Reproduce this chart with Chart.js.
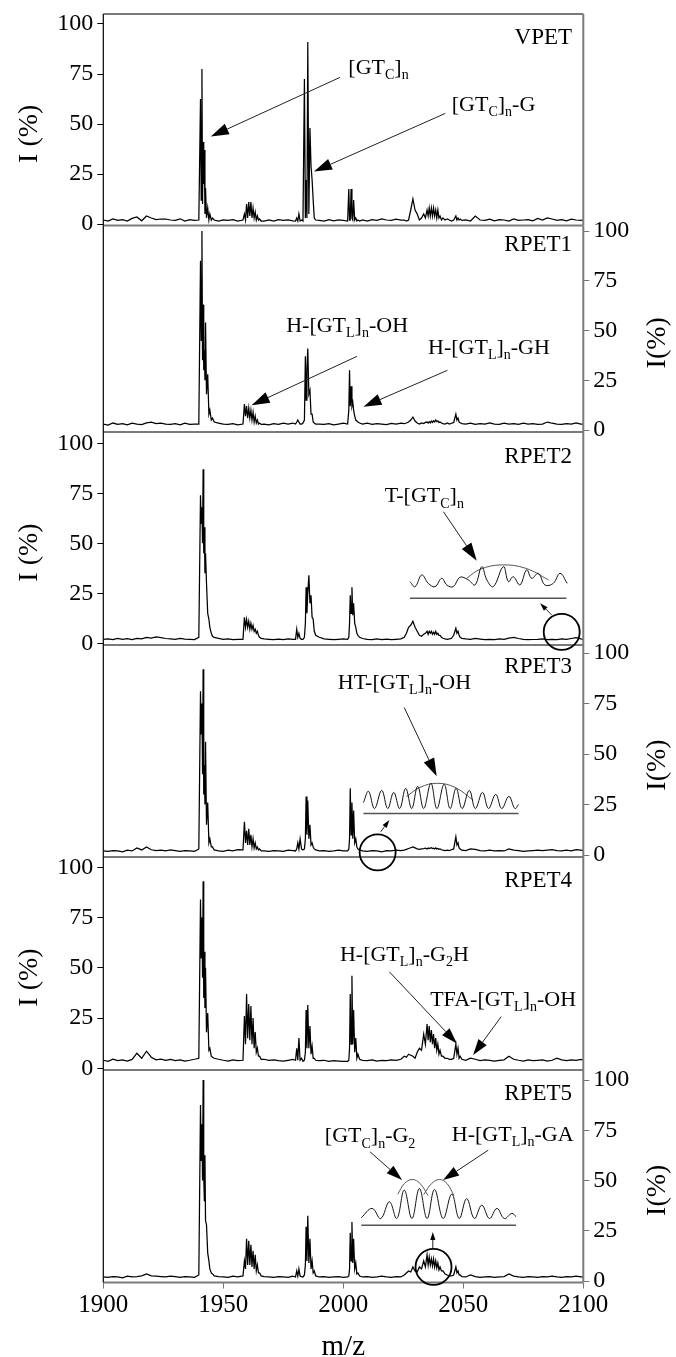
<!DOCTYPE html>
<html>
<head>
<meta charset="utf-8">
<script src="https://cdn.jsdelivr.net/npm/chart.js@4.4.0/dist/chart.umd.min.js"></script>
<style>
  html, body { margin: 0; padding: 0; background: #fff; overflow: hidden; }
  #wrap { position: relative; width: 676px; height: 1357px; overflow: hidden; }
  #wrap canvas { position: absolute; left: 0; }
</style>
</head>
<body>
<div id="wrap"></div>
<script>
// m/z grid shared by the six spectra (coarse on the baseline, fine in the isotope clusters)
var mz = [
  1900,1902,1904,1906,1908,1910,1912,1914,1916,1918,1920,1922,1924,1926,1928,1930,1932,1934,1936,1938,
  1939.8,1940.5,1940.8,1941.1,1941.35,1941.6,1941.85,1942.1,1942.35,1942.6,1943.0,1943.5,1944.0,1944.4,1945.0,1945.5,1946.2,
  1948,1950,1952,1954,1956,
  1958.2,1958.8,1959.25,1959.7,1960.15,1960.6,1961.05,1961.5,1961.95,1962.4,1962.85,1963.3,1963.75,1964.2,1964.65,1965.1,1965.8,
  1967,1969,1971,1973,1975,1977,1979,
  1980.1,1980.6,1981.05,1981.5,1982.0,1982.6,1983.2,1983.8,1984.2,1984.5,1984.85,1985.2,1985.65,1986.1,1986.55,1987.0,1987.45,1987.9,1988.5,
  1990,1992,1994,1996,1998,2000,
  2001.8,2002.3,2002.6,2002.9,2003.25,2003.6,2003.95,2004.3,2004.75,2005.2,2005.65,2006.1,2006.8,
  2008,2010,2012,2014,2016,2018,2020,2022,2024,
  2025.4,2026.3,2027.2,2028.1,2029.0,2029.9,2030.8,2031.7,2032.6,2033.5,2034.2,2034.9,2035.35,2035.8,2036.25,2036.7,2037.15,2037.6,2038.05,2038.5,2038.95,2039.4,2039.85,2040.3,2040.9,2041.5,2042.4,2043.3,2044.2,2045.1,2046.0,2046.9,2047.35,2047.8,2048.25,2048.7,2049.4,
  2051,2053,2055,2057,2059,2061,2063,2065,2067,2069,2071,2073,2075,2077,2079,2081,2083,2085,2087,2089,2091,2093,2095,2097,2099,2100
];

// relative intensities (%) on the mz grid
var vpet = [
  2,1.5,2.5,1.8,2.2,1.5,2.8,3.5,1.6,4,3,2.2,2.5,2.5,2,1.8,2.6,1.5,2.2,1.8,
  2,62.5,12,77.5,10,41,20,37,5,18,3,8,2,5,2,3,2,
  1.5,2,1.8,2.2,1.5,
  2,5,2,10,3,11,4,11,3,8,3,6,2,4,2,2.5,1.5,
  1.5,2,1.5,2.2,1.8,2,1.6,
  1.5,3,1.5,5,1.5,2,1.5,72.5,3,22,3,91,5,48,29,22,12,3,2,
  1.8,1.5,2.2,1.6,2,1.8,
  1.5,17.5,2,2,17.5,3,2,12,2,3,1.5,2,1.5,
  2,1.5,2.2,1.8,2.5,2,1.8,2.4,2,
  2,1.5,2,7,12.5,7,5,2,3,5,3,7,4,8,4,8,4,8,4,7,3,7,3,4,2,3,2,2.5,2,1.5,2,4,2,3,2,2.5,1.8,
  2,1.5,4,2,1.8,2.4,1.6,2.2,2,1.5,2.5,1.8,2,2.2,1.6,2.8,2,3,2.5,1.8,2.2,1.6,2.4,2,1.8,2
];
var rpet1 = [
  3,2.5,3.5,2.8,3.2,2.6,3.4,3,2.7,3.6,4,3.2,3.5,3,2.8,3.2,2.6,3.4,2.8,3,
  3,85,45,100,35,63,30,40,25,54,18,28,8,10,5,6,4,
  3.5,3,2.8,3.2,2.6,
  3,13,7,12,6,11,6,10,5,9,4,7,3.5,5,3,3.5,2.8,
  3,2.6,3.2,2.8,3.4,3,3.5,
  3,4,5,4,3,3,3.5,5,37,15,30,41,18,20,8,8,4,3.5,3,
  3,2.8,3.2,2.6,3,3.4,
  3,10,30,12,22,12,14,10,7,5,4.5,4,3.5,
  3,3.4,2.8,3.2,3,2.7,3.3,3,3.5,
  3.2,3.5,4,5,6.5,4.5,3.5,3,3.6,3.2,3.8,4,3.5,4.2,3.6,4.5,3.8,4.6,4,5,4.2,4.6,3.8,4,3.5,3.2,3,3.5,3,3.4,3.8,8,5,6,4,3.6,3.2,
  3,3.5,2.8,3.2,3,3.6,3,2.8,3.4,3,3.2,2.8,3.4,3,3.2,2.8,3,4,3.4,3,2.8,3.2,3,3.6,3,3
];
var rpet2 = [
  2,2.2,1.8,2.4,2,2.3,1.9,2.5,2.2,3,2.6,3.2,2.8,2.4,2.2,2,2.4,2.1,2,1.9,
  3,74,60,68,50,87,45,58,35,45,30,15,12,8,5,3.5,3,
  2.5,2,2.2,1.8,2,
  2,13,8,12,8,11,7,10,7,9,6,7,5,6,4,3,2.5,
  2.2,2,1.8,2.1,1.9,2.2,2,
  2,7,3,5,2.5,2,2,3,10,28,15,25,34,20,24,13,12,6,4,
  3,2.2,2,1.8,2,2.2,
  2,3,10,24,15,28,14,20,10,8,5,4,3,
  2.4,2,1.8,2.2,1.9,2.1,1.8,2,2.2,
  3,5,8,9,11,8,6,4,3.5,4.5,5,6,4.5,6,5,6,4.5,5.5,4.5,6,4.5,5,4,4,3,2.5,2.2,2,2.2,2.5,4,7.5,5,6,4,3,2.5,
  2.2,2,2.4,2.1,1.8,2,1.9,2.2,2,2.6,3,2.4,2,1.8,1.9,2,2.2,1.8,2,1.9,2.2,2,2.4,2.8,2.2,2
];
var rpet3 = [
  2,1.8,2.2,2,1.6,2.4,2,3.5,2.5,4,2.6,2.2,2.4,2,2.5,2.2,1.8,2.2,2,1.8,
  3,81,60,75,40,92,30,44.5,25,56,15,26,6,8,4,4,2.5,
  2,1.8,2.4,2,2.6,
  2.5,16.5,6,12,5,13,5,10,4,8,3.5,6,3,4,2.5,3,2,
  2,1.8,2.2,2,1.8,2.4,2.2,
  2,3,6,3,8,3,2.5,3,8,29,10,27,8,15,5,6,4,3,2.5,
  2,2.2,1.8,2,2.4,2,
  2,3,8,33,10,26,8,22,6,8,4,3,2.5,
  2,1.8,2.2,2,1.6,2.2,2,2.4,2.2,
  2.4,2.8,3.2,3.6,4,3.5,3,2.8,3,3.2,3.4,3,3.5,3.2,3.4,3.6,3.2,3.4,3,3.5,3,3.2,2.8,3,2.6,2.4,2.2,2.4,2.2,2.6,3,9,5,6,3.5,3,2.4,
  2.2,3,2.8,2.2,2,2.4,2,2.2,2,3,2.4,2.2,1.8,2,2.2,2.4,2.2,2.4,2.6,2.2,2,2.4,2,2.6,2.4,2.2
];
var rpet4 = [
  4,3.5,4.5,3.8,4.2,3.6,4.4,7.5,5,8.5,5.5,4.2,4.6,4,4.4,3.8,4.2,3.6,4,4.5,
  5,84,55,75,45,93,35,58,30,50,18,27.5,9,10,6,5.5,5,
  4.5,4,3.6,4.2,3.8,
  4,26,12,37,15,32,14,31,12,25,10,18,8,10,6,6,4.5,
  4.5,4,4.2,3.8,3.6,4,4.4,
  4,10,4,15,4,5,3.5,4,8,29,10,31.5,10,21,7,11,5,5,4,
  3.8,4,3.5,3.8,3.6,3.4,
  3.5,4,10,37,12,46,12,29,8,15,5,7,4.5,
  4,3.8,4.2,3.6,4,3.8,4.2,4,4.5,
  6,5.5,7,6.5,6,5,8,10,9,17,12,22,14,21,13,19,12,17,10,15,9,12,7,9,6,6,5,5,4.5,4.5,5,12,7,10,5,6,4.5,
  4,5,4.5,3.8,4.2,4,3.6,4,4.2,6,4.5,4,3.6,4.2,3.8,4,4.2,3.6,4,5,4.2,3.8,4.2,4,4.4,4
];
var rpet5 = [
  2,1.8,2.2,2,1.6,2.4,2,2.2,2.6,3.5,2.6,2.4,2.2,2,2.4,2.2,1.8,2.2,2,1.8,
  3,87.5,60,78,50,100,52,40,62.6,30,28,14,10,6,4,3.5,2.5,
  2.2,2,1.8,2.4,2,
  2.5,10,6,21,8,20,8,18,7,15,6,13,5,8,4,4,2.5,
  2.2,2,1.8,2.2,2,1.8,2.4,
  2,5,2.5,6,2.5,2.2,2,3,8,27,10,32.4,9,21,6,10,4,5,2.5,
  2,2.2,1.8,2,2.2,1.8,
  2,2.5,6,24,10,29.4,9,21,6,9,3.5,4,2.5,
  2,2.2,1.8,2,2.4,2,1.8,2.2,2,
  3,4,5,4.5,7,5,4.5,7,6,10,7,13,8,12,8,11,7.5,11,7,10,6.5,9,5.5,7,5,5,3.5,3,2.5,2.5,3,7,4,5,3,3,2.2,
  2,3,2.2,1.8,2,2.2,1.8,2,2.2,3.5,2.4,2,1.8,2.2,2,1.8,2.2,2,2.4,2,1.8,2.2,2,2.4,2,2
];
var spectra = [vpet, rpet1, rpet2, rpet3, rpet4, rpet5];
var panelNames = ['VPET', 'RPET1', 'RPET2', 'RPET3', 'RPET4', 'RPET5'];

var xTicks = [1900, 1950, 2000, 2050, 2100];
var yTicks = [0, 25, 50, 75, 100];

// zoomed insets (drawn in the panel's own m/z, intensity units)
var rpet2InsetMz = [2027.8,2029.9,2032.7,2035.4,2038.2,2041.0,2043.1,2045.8,2048.6,2052.1,2054.9,2057.7,2059.8,2062.5,2066.7,2068.8,2070.8,2073.6,2076.4,2078.5,2081.3,2084.0,2087.5,2090.3,2093.3];
var rpet2InsetI  = [30.8,28.3,34.2,30,28.3,32.5,29.2,28.3,33,31.7,29.2,38.3,31.7,28.3,38.3,30.8,33.3,29.2,36.7,32.5,35,29.2,30,35,30];
var rpet2ArcMz = [2051.4, 2057, 2066, 2076, 2085.5];
var rpet2ArcI  = [32.5, 37, 39.2, 37.5, 31.7];

var rpet3InsetMz = [2008.4,2010.5,2013,2016,2018.5,2021,2023.5,2026,2028.5,2031,2033.5,2036.5,2039,2042,2044.5,2047,2049.5,2052.5,2055,2058,2060.5,2063.5,2066,2069,2071.5,2073];
var rpet3InsetI  = [26,31.5,23,32,23,31,23,33,23,34,23,35.5,23,35,23,33,23,32,23,31,23,30,23,29,23,25];
var rpet3ArcMz = [2026.3, 2032, 2039, 2046.5, 2054.1];
var rpet3ArcI  = [28.9, 33.5, 35.5, 33.5, 27.2];

var rpet5InsetMz = [2007.5,2012.0,2015.6,2019.2,2022.3,2025.4,2028.6,2031.7,2034.9,2038.0,2041.6,2045.2,2048.3,2051.4,2054.6,2057.7,2060.9,2064.0,2067.1,2070.2,2072];
var rpet5InsetI  = [31.5,36.1,31.1,39.4,31.1,45.2,31.1,46.0,31.1,45.5,31.1,43.2,31.1,41.0,31.1,37.7,31.1,36.1,31.1,33.6,32];
var rpet5Arc1Mz = [2022.7, 2025.5, 2028.7, 2032, 2035.3];
var rpet5Arc1I  = [43.2, 48.5, 50.5, 48.5, 42.5];
var rpet5Arc2Mz = [2033.5, 2036.8, 2040.1, 2043.2, 2046.1];
var rpet5Arc2I  = [43, 48.5, 50.5, 48.5, 42.5];

// annotations per panel: [text, m/z at left edge, intensity at middle]
var annoLabels = [
  [['[GT_{C}]_{n}', 2002.1, 78], ['[GT_{C}]_{n}-G', 2045.2, 59.5]],
  [['H-[GT_{L}]_{n}-OH', 1976.2, 52], ['H-[GT_{L}]_{n}-GH', 2035.3, 41]],
  [['T-[GT_{C}]_{n}', 2017.3, 73.3]],
  [['HT-[GT_{L}]_{n}-OH', 1997.7, 85]],
  [['H-[GT_{L}]_{n}-G_{2}H', 1998.6, 56.4], ['TFA-[GT_{L}]_{n}-OH', 2036.2, 34]],
  [['[GT_{C}]_{n}-G_{2}', 1992.3, 71.8], ['H-[GT_{L}]_{n}-GA', 2045.2, 72.6]]
];
// arrows: from (m/z, I) to (m/z, I), head size
var annoArrows = [
  [[1998.6,73.3,1944.8,43.7,18], [2042.5,55.3,1987.8,26.2,18]],
  [[2005.7,37,1961.8,12.5,18], [2043.4,30,2008.4,11.7,18]],
  [[2041.7,65.8,2055.6,41.3,18], [2086.8,14.2,2082,20,8]],
  [[2025.4,73,2038.9,39,18], [2015.6,11.5,2019.2,17.3,8]],
  [[2019.2,48,2047.3,12.4,16], [2065.8,25.7,2054.1,6.6,16]],
  [[2011.1,64.3,2024.5,50.2,16], [2060.4,65.1,2041.6,50.2,16], [2037.3,16.1,2037.3,24.4,8]]
];
var annoCircles = [[], [], [[2091, 5.7]], [[2014.3, 1.3]], [], [[2037.6, 7]]];
var annoRules = [[], [], [[2027.8, 2093, 22.5]], [[2008.4, 2073, 20.6]], [], [[2007.5, 2072, 27.7]]];

// page layout (pixels)
var PLOT_L = 103.3, PLOT_R = 583.3, W = 676, PAD = 24, XAXIS_H = 82;
var panelTop    = [14, 225.5, 432, 645, 857, 1070];
var panelBottom = [225.5, 432, 645, 857, 1070, 1282.5];
var zeroPx      = [224, 430, 643.3, 855, 1068.3, 1281];
var hundredPx   = [24, 231, 443.3, 653, 867.3, 1080];
var tickSide    = ['left', 'right', 'left', 'right', 'left', 'right'];
var SERIF = "'Liberation Serif', 'Times New Roman', serif";

function pts(xs, ys) {
  return xs.map(function (x, j) { return { x: x, y: ys[j] }; });
}

function drawRich(ctx, str, x, y, size) {
  var parts = str.split(/(_\{[^}]*\})/);
  ctx.textAlign = 'left';
  ctx.textBaseline = 'middle';
  parts.forEach(function (p) {
    if (!p) return;
    var sub = p.charAt(0) === '_';
    var t = sub ? p.slice(2, -1) : p;
    ctx.font = (sub ? Math.round(size * 0.62) : size) + 'px ' + SERIF;
    ctx.fillText(t, x, y + (sub ? size * 0.33 : 0));
    x += ctx.measureText(t).width;
  });
}

function drawArrow(ctx, x1, y1, x2, y2, head) {
  var dx = x2 - x1, dy = y2 - y1, len = Math.sqrt(dx * dx + dy * dy);
  var ux = dx / len, uy = dy / len;
  var bx = x2 - ux * head, by = y2 - uy * head, w = head * 0.32;
  ctx.beginPath();
  ctx.moveTo(x1, y1);
  ctx.lineTo(bx, by);
  ctx.stroke();
  ctx.beginPath();
  ctx.moveTo(x2, y2);
  ctx.lineTo(bx - uy * w, by + ux * w);
  ctx.lineTo(bx + uy * w, by - ux * w);
  ctx.closePath();
  ctx.fill();
}

var decor = {
  id: 'decor',
  afterDraw: function (chart) {
    var i = chart.options.plugins.decor.panel;
    var ctx = chart.ctx, a = chart.chartArea;
    var xs = chart.scales.x, ys = chart.scales.y;
    var px = function (v) { return xs.getPixelForValue(v); };
    var py = function (v) { return ys.getPixelForValue(v); };
    ctx.save();

    // frame
    ctx.strokeStyle = '#7a7a7a';
    ctx.lineWidth = 2;
    ctx.beginPath();
    if (i === 0) { ctx.moveTo(a.left, a.top); ctx.lineTo(a.right, a.top); }
    ctx.moveTo(a.left, a.bottom); ctx.lineTo(a.right, a.bottom);
    ctx.moveTo(a.right, a.top); ctx.lineTo(a.right, a.bottom);
    ctx.stroke();
    ctx.strokeStyle = '#000';
    ctx.lineWidth = 1.2;
    ctx.beginPath(); ctx.moveTo(a.left, a.top); ctx.lineTo(a.left, a.bottom); ctx.stroke();

    ctx.fillStyle = '#000';

    // sample name
    ctx.font = '23px ' + SERIF;
    ctx.textAlign = 'right';
    ctx.textBaseline = 'middle';
    ctx.fillText(panelNames[i], px(2095.3), py(93));

    // y title, reading bottom to top on both sides
    ctx.save();
    var left = tickSide[i] === 'left';
    ctx.translate(left ? 30 : 658, (a.top + a.bottom) / 2 + 14);
    ctx.rotate(-Math.PI / 2);
    ctx.font = '28px ' + SERIF;
    ctx.textAlign = 'center';
    ctx.fillText(left ? 'I (%)' : 'I(%)', 0, 0);
    ctx.restore();

    // inset underline
    ctx.strokeStyle = '#555';
    ctx.lineWidth = 1.5;
    annoRules[i].forEach(function (r) {
      ctx.beginPath(); ctx.moveTo(px(r[0]), py(r[2])); ctx.lineTo(px(r[1]), py(r[2])); ctx.stroke();
    });

    // circles
    ctx.strokeStyle = '#000';
    ctx.lineWidth = 1.8;
    annoCircles[i].forEach(function (c) {
      ctx.beginPath(); ctx.arc(px(c[0]), py(c[1]), 18, 0, Math.PI * 2); ctx.stroke();
    });

    // arrows
    ctx.strokeStyle = '#222';
    ctx.lineWidth = 1;
    annoArrows[i].forEach(function (r) {
      drawArrow(ctx, px(r[0]), py(r[1]), px(r[2]), py(r[3]), r[4]);
    });

    // labels
    annoLabels[i].forEach(function (l) {
      drawRich(ctx, l[0], px(l[1]), py(l[2]), 22);
    });

    ctx.restore();
  }
};

function insetSets(i) {
  var line = { borderColor: '#111', borderWidth: 1, pointRadius: 0, tension: 0.4, fill: false };
  var arc = { borderColor: '#555', borderWidth: 1, pointRadius: 0, tension: 0.4, fill: false };
  if (i === 2) return [Object.assign({ data: pts(rpet2InsetMz, rpet2InsetI) }, line),
                       Object.assign({ data: pts(rpet2ArcMz, rpet2ArcI) }, arc)];
  if (i === 3) return [Object.assign({ data: pts(rpet3InsetMz, rpet3InsetI) }, line),
                       Object.assign({ data: pts(rpet3ArcMz, rpet3ArcI) }, arc)];
  if (i === 5) return [Object.assign({ data: pts(rpet5InsetMz, rpet5InsetI) }, line),
                       Object.assign({ data: pts(rpet5Arc1Mz, rpet5Arc1I) }, arc),
                       Object.assign({ data: pts(rpet5Arc2Mz, rpet5Arc2I) }, arc)];
  return [];
}

var wrap = document.getElementById('wrap');
spectra.forEach(function (vals, i) {
  var last = i === spectra.length - 1;
  var left = tickSide[i] === 'left';
  var extra = last ? XAXIS_H : PAD;
  var cTop = Math.floor(panelTop[i] - PAD);
  var cH = Math.ceil(panelBottom[i] + extra) - cTop;
  var padTop = panelTop[i] - cTop;
  var padBottom = cTop + cH - panelBottom[i] - (last ? XAXIS_H : 0);

  var k = (zeroPx[i] - hundredPx[i]) / 100;
  var yMin = -(panelBottom[i] - zeroPx[i]) / k;
  var yMax = 100 + (hundredPx[i] - panelTop[i]) / k;

  var cv = document.createElement('canvas');
  cv.width = W; cv.height = cH;
  cv.style.width = W + 'px'; cv.style.height = cH + 'px';
  cv.style.top = cTop + 'px';
  wrap.appendChild(cv);

  var datasets = [{
    data: pts(mz, vals),
    borderColor: '#000',
    borderWidth: 1.25,
    pointRadius: 0,
    tension: 0,
    fill: false
  }].concat(insetSets(i));

  new Chart(cv.getContext('2d'), {
    type: 'line',
    data: { datasets: datasets },
    options: {
      responsive: false,
      animation: false,
      events: [],
      layout: {
        padding: {
          left: left ? 0 : PLOT_L,
          right: left ? W - PLOT_R : 0,
          top: padTop,
          bottom: padBottom
        }
      },
      plugins: { legend: { display: false }, tooltip: { enabled: false }, decor: { panel: i } },
      scales: {
        x: {
          type: 'linear',
          min: 1900, max: 2100,
          display: last,
          afterBuildTicks: function (s) { s.ticks = xTicks.map(function (v) { return { value: v }; }); },
          afterFit: function (s) { s.height = last ? XAXIS_H : 0; },
          border: { display: false },
          grid: { drawOnChartArea: false, drawTicks: true, tickLength: 6, color: '#777' },
          ticks: { color: '#000', padding: 2, maxRotation: 0, autoSkip: false,
                   callback: function (v) { return String(v); },
                   font: { family: SERIF, size: 25 } },
          title: { display: true, text: 'm/z', color: '#000', padding: { top: 0, bottom: 0 },
                   font: { family: SERIF, size: 29 } }
        },
        y: {
          type: 'linear',
          position: tickSide[i],
          min: yMin, max: yMax,
          afterBuildTicks: function (s) { s.ticks = yTicks.map(function (v) { return { value: v }; }); },
          afterFit: function (s) { s.width = left ? PLOT_L : W - PLOT_R; },
          border: { display: false },
          grid: { drawOnChartArea: false, drawTicks: true, tickLength: 6, color: left ? '#000' : '#777' },
          ticks: { color: '#000', padding: 4, autoSkip: false,
                   callback: function (v) { return String(v); },
                   font: { family: SERIF, size: 24 } }
        }
      }
    },
    plugins: [decor]
  });
});
</script>
</body>
</html>
